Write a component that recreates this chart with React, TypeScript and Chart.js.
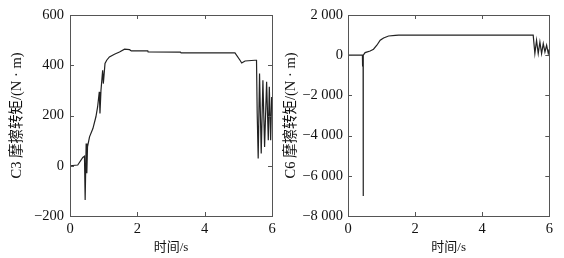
import React, { useEffect, useRef } from "react";
import { Chart, registerables } from "chart.js";

Chart.register(...registerables);

// C3 friction torque (N·m) vs time (s)
const c3Time = [0, 0.23, 0.38, 0.43, 0.45, 0.48, 0.5, 0.52, 0.58, 0.68, 0.77, 0.82, 0.87, 0.89, 0.92, 0.97, 0.99, 1.04, 1.09, 1.17, 1.32, 1.47, 1.62, 1.77, 1.82, 2.31, 2.32, 3.28, 3.3, 4.9, 5.05, 5.1, 5.15, 5.2, 5.49, 5.54, 5.56, 5.59, 5.63, 5.68, 5.73, 5.78, 5.84, 5.89, 5.92, 5.96, 5.99];
const c3Torque = [0, 3, 33, 38, -136, 89, -30, 75, 115, 148, 195, 234, 294, 208, 300, 380, 327, 407, 420, 433, 444, 453, 464, 462, 457, 457, 453, 452, 449, 449, 420, 409, 413, 417, 420, 420, 209, 29, 367, 49, 340, 75, 334, 102, 314, 102, 274];

// C6 friction torque (N·m) vs time (s)
const c6Time = [0, 0.43, 0.43, 0.44, 0.45, 0.45, 0.46, 0.51, 0.66, 0.76, 0.86, 0.96, 1.06, 1.21, 1.41, 1.51, 5.52, 5.57, 5.62, 5.67, 5.72, 5.77, 5.82, 5.87, 5.92, 5.97, 6.0];
const c6Torque = [0, 0, -560, 0, 0, -7000, 0, 130, 210, 296, 495, 743, 857, 957, 990, 1000, 1000, 82, 743, 82, 659, 82, 580, 162, 495, 82, 300];

const xTicks = [0, 2, 4, 6];
const c3Ticks = [-200, 0, 200, 400, 600];
const c6Ticks = [-8000, -6000, -4000, -2000, 0, 2000];

const FONT = "'Liberation Serif', 'Times New Roman', 'Noto Sans CJK SC', serif";

const fmt = (v: number) => {
  const s = Math.abs(v).toString().replace(/\B(?=(\d{3})+(?!\d))/g, " ");
  return (v < 0 ? "\u2212" : "") + s;
};

const framePlugin = {
  id: "frameTicks",
  afterDraw(chart: any) {
    const { ctx, chartArea: a, scales } = chart;
    const len = 4;
    ctx.save();
    ctx.strokeStyle = "#555";
    ctx.lineWidth = 1;
    ctx.strokeRect(Math.round(a.left) + 0.5, Math.round(a.top) + 0.5, Math.round(a.right - a.left), Math.round(a.bottom - a.top));
    ctx.beginPath();
    scales.x.ticks.forEach((t: any) => {
      const px = Math.round(scales.x.getPixelForValue(t.value)) + 0.5;
      ctx.moveTo(px, a.bottom);
      ctx.lineTo(px, a.bottom - len);
      ctx.moveTo(px, a.top);
      ctx.lineTo(px, a.top + len);
    });
    scales.y.ticks.forEach((t: any) => {
      const py = Math.round(scales.y.getPixelForValue(t.value)) + 0.5;
      ctx.moveTo(a.left, py);
      ctx.lineTo(a.left + len, py);
      ctx.moveTo(a.right, py);
      ctx.lineTo(a.right - len, py);
    });
    ctx.stroke();
    ctx.restore();
  },
};

function makeConfig(
  times: number[],
  values: number[],
  yTicks: number[],
  yTitle: string,
  yWidth: number,
  padRight: number,
  titlePad: number,
  labelPad: number
): any {
  return {
    type: "line",
    data: {
      datasets: [
        {
          data: times.map((t, i) => ({ x: t, y: values[i] })),
          borderColor: "#222",
          borderWidth: 1.2,
          pointRadius: 0,
          tension: 0,
          fill: false,
        },
      ],
    },
    options: {
      responsive: false,
      animation: false,
      events: [],
      layout: { padding: { left: 0, top: 15, right: padRight, bottom: 0 } },
      plugins: { legend: { display: false }, tooltip: { enabled: false } },
      scales: {
        x: {
          type: "linear",
          min: xTicks[0],
          max: xTicks[xTicks.length - 1],
          afterBuildTicks: (s: any) => {
            s.ticks = xTicks.map((v) => ({ value: v }));
          },
          afterFit: (s: any) => {
            s.height = 42;
          },
          grid: { display: false, drawTicks: false },
          border: { display: false },
          ticks: {
            padding: 4,
            color: "#111",
            font: { family: FONT, size: 14.5 },
            callback: (v: number) => fmt(v),
          },
          title: {
            display: true,
            text: "时间/s",
            color: "#111",
            font: { family: FONT, size: 13 },
            padding: { top: 0, bottom: 3 },
          },
        },
        y: {
          type: "linear",
          min: yTicks[0],
          max: yTicks[yTicks.length - 1],
          afterBuildTicks: (s: any) => {
            s.ticks = yTicks.map((v) => ({ value: v }));
          },
          afterFit: (s: any) => {
            s.width = yWidth;
          },
          grid: { display: false, drawTicks: false },
          border: { display: false },
          ticks: {
            padding: labelPad,
            color: "#111",
            font: { family: FONT, size: 14.5 },
            callback: (v: number) => fmt(v),
          },
          title: {
            display: true,
            text: yTitle,
            color: "#111",
            font: { family: FONT, size: 14.5 },
            padding: { top: titlePad, bottom: 0 },
          },
        },
      },
    },
    plugins: [framePlugin],
  };
}

function Panel(props: { config: any; left: number }) {
  const ref = useRef<HTMLCanvasElement>(null);
  useEffect(() => {
    if (!ref.current) return;
    const chart = new Chart(ref.current, props.config);
    return () => chart.destroy();
  }, []);
  return (
    <canvas
      ref={ref}
      width={282}
      height={258}
      style={{ position: "absolute", left: props.left, top: 0, width: 282, height: 258 }}
    />
  );
}

export default function App() {
  const cfg3 = makeConfig(c3Time, c3Torque, c3Ticks, "C3 摩擦转矩/(N · m)", 70, 10, 8.3, 6);
  const cfg6 = makeConfig(c6Time, c6Torque, c6Ticks, "C6 摩擦转矩/(N · m)", 66, 14.7, 0, 5);
  return (
    <div style={{ position: "absolute", left: 0, top: 0, width: 564, height: 258, background: "#fff" }}>
      <Panel config={cfg3} left={0} />
      <Panel config={cfg6} left={282} />
    </div>
  );
}
